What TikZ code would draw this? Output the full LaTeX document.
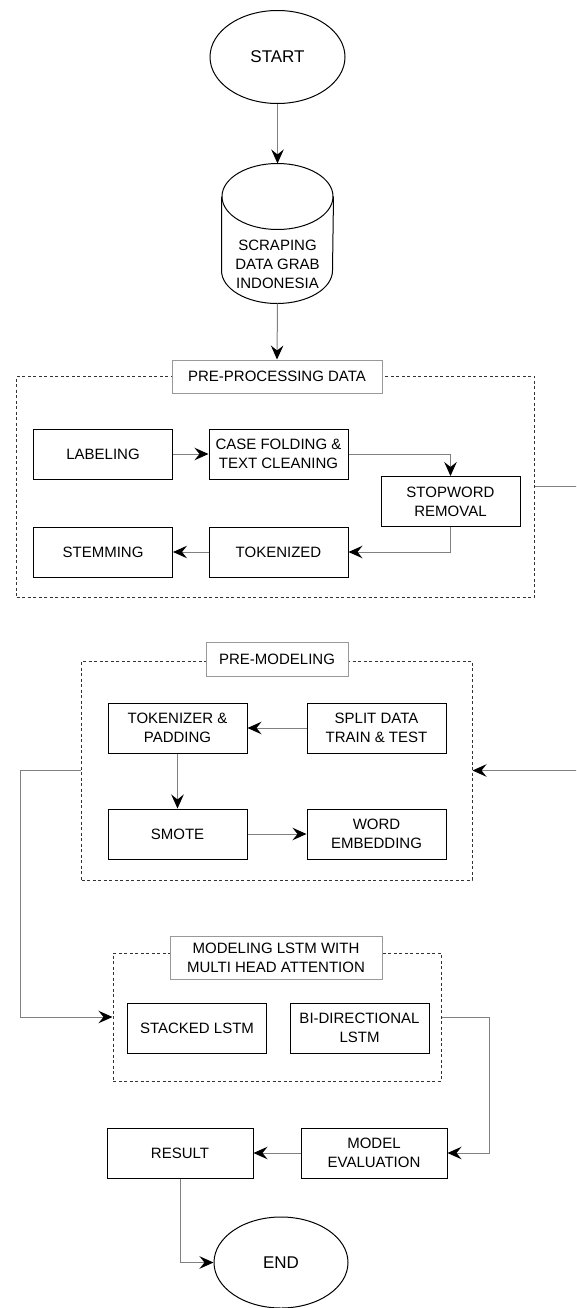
\documentclass[tikz,border=0pt]{standalone}
\usepackage{fontspec}
\setmainfont{Liberation Sans}
\usetikzlibrary{arrows.meta,shapes.geometric}

\begin{document}
\begin{tikzpicture}[x=1pt,y=-1pt,
line width=1pt,
font=\fontsize{15}{19}\selectfont,
box/.style = {
shape=rectangle,
draw=black,
minimum width=139pt,
minimum height=50pt,
inner sep=1pt,
align=center,
text=black},
terminal/.style = {
shape=ellipse,
draw=black,
minimum width=135pt,
minimum height=93pt,
font=\fontsize{17}{20}\selectfont},
groupbox/.style = {
shape=rectangle,
draw=black!80,
dash pattern=on 3pt off 2.5pt,
inner sep=0pt},
grouptitle/.style = {
shape=rectangle,
draw=black!40,
fill=white,
inner sep=1pt,
align=center},
flow/.style = {
draw=black!50,
-{Stealth[length=14pt,width=12.5pt,inset=5pt,color=black]}}
]
\clip (0,0) rectangle (576,1308);
%
\node[terminal] (nstart) at (277.5,57) {START};
\node[minimum width=111pt, minimum height=139pt, inner sep=0pt] (ndata) at (277.5,233.5) {};
\node[align=center, inner sep=0pt] (ndatatext) at (277.5,264) {SCRAPING\\DATA GRAB\\INDONESIA};
\draw ([yshift=-33pt]ndata.north west) -- ([yshift=33pt]ndata.south west)
  arc[start angle=180, end angle=360, x radius=55.5pt, y radius=33pt]
  -- ([yshift=-33pt]ndata.north east);
\draw ([yshift=-33pt]ndata.north) ellipse [x radius=55.5pt, y radius=33pt];
%
\node[groupbox, minimum width=518pt, minimum height=221pt] (nprep) at (275.5,486.5) {};
\node[grouptitle, minimum width=210pt, minimum height=33pt] (nprept) at (277,376.5) {PRE-PROCESSING DATA};
\node[box] (nlabel) at (103,454) {LABELING};
\node[box] (ncase) at (278.5,454) {CASE FOLDING \&\\TEXT CLEANING};
\node[box] (nstop) at (450.5,501.5) {STOPWORD\\REMOVAL};
\node[box] (nstem) at (103,552) {STEMMING};
\node[box] (ntok) at (278.5,552) {TOKENIZED};
%
\node[groupbox, minimum width=390.5pt, minimum height=219pt] (npremod) at (276.75,770.5) {};
\node[grouptitle, minimum width=142pt, minimum height=34pt] (npremodt) at (277,659) {PRE-MODELING};
\node[box] (ntokpad) at (177.5,728) {TOKENIZER \&\\PADDING};
\node[box] (nsplit) at (376.5,728) {SPLIT DATA\\TRAIN \& TEST};
\node[box] (nsmote) at (177.5,834) {SMOTE};
\node[box] (nembed) at (376.5,834) {WORD\\EMBEDDING};
%
\node[groupbox, minimum width=328pt, minimum height=128pt] (nmodel) at (277,1017) {};
\node[grouptitle, minimum width=212pt, minimum height=43pt] (nmodelt) at (276,957.5) {MODELING LSTM WITH\\MULTI HEAD ATTENTION};
\node[box] (nstack) at (197,1028) {STACKED LSTM};
\node[box] (nbidir) at (359.5,1028) {BI-DIRECTIONAL\\LSTM};
%
\node[box, minimum width=146pt] (neval) at (374,1153) {MODEL\\EVALUATION};
\node[box, minimum width=146pt] (nresult) at (180,1153) {RESULT};
\node[terminal, minimum width=134pt, minimum height=91pt] (nend) at (281,1262.5) {END};
%
\draw[flow] (nstart.south) -- (ndata.north);
\draw[flow] (ndata.south) -- (nprept.north);
\draw[flow] (nlabel) -- (ncase);
\draw[flow] (ncase.east) -| (nstop.north);
\draw[flow] (nstop.south) |- (ntok.east);
\draw[flow] (ntok) -- (nstem);
\draw[flow] (nprep.east) -- ++(80,0) |- (npremod.east);
\draw[flow] (nsplit) -- (ntokpad);
\draw[flow] (ntokpad) -- (nsmote);
\draw[flow] (nsmote) -- (nembed);
\draw[flow] (npremod.west) -- ++(-60.5,0) |- (nmodel.west);
\draw[flow] (nmodel.east) -- ++(48,0) |- (neval.east);
\draw[flow] (neval) -- (nresult);
\draw[flow] (nresult.south) |- (nend.west);
%
\end{tikzpicture}
\end{document}
